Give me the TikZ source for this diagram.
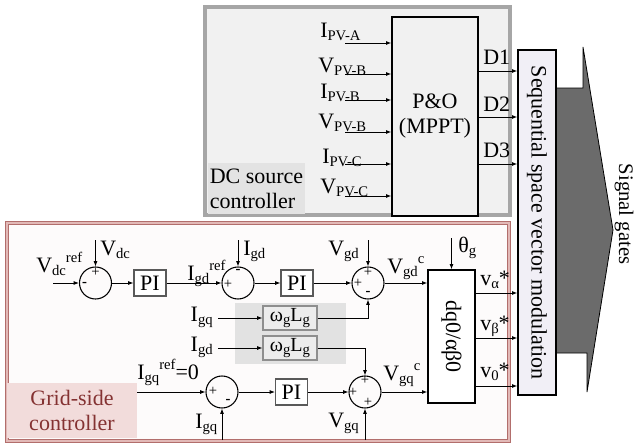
\documentclass[tikz,border=0pt]{standalone}
\usepackage{fontspec}
\setmainfont{Liberation Serif}
\usetikzlibrary{arrows.meta,calc}
\definecolor{dcfill}{HTML}{F1F1F1}
\definecolor{dcedge}{HTML}{A6A6A6}
\definecolor{dclab}{HTML}{E3E3E3}
\definecolor{gridedge}{HTML}{B26E6C}
\definecolor{gridinner}{HTML}{E2B9B7}
\definecolor{gridfill}{HTML}{FDFBFB}
\definecolor{gridlab}{HTML}{F2DCDB}
\definecolor{gridtext}{HTML}{843232}
\definecolor{seqfill}{HTML}{F1EFF6}
\definecolor{arrfill}{HTML}{6B6B6B}
\definecolor{wlgray}{HTML}{E2E2E2}
\definecolor{wlbox}{HTML}{ECECEC}
\definecolor{wledge}{HTML}{8E8E8E}
\newcommand{\lsb}[1]{\raisebox{-2.5pt}{\fontsize{11}{11}\selectfont #1}}
\newcommand{\lsp}[1]{\raisebox{7.5pt}{\fontsize{11}{11}\selectfont #1}}
\begin{document}
\begin{tikzpicture}[x=0.75pt,y=-0.75pt, font=\fontsize{16.5}{18.75}\selectfont,
  arr/.style={-{Latex[length=4pt,width=3pt]}, line width=0.7pt},
  sumnode/.style={circle, draw, line width=0.8pt, minimum size=24pt, inner sep=0pt},
  piblock/.style={draw=black!65, line width=0.8pt, fill=white, minimum width=24pt, minimum height=19.5pt, inner sep=0pt},
  wlblock/.style={draw=wledge, line width=0.8pt, fill=wlbox, minimum width=40.5pt, minimum height=18pt, inner sep=0pt, font=\fontsize{15}{15}\selectfont},
  sgn/.style={font=\fontsize{11}{11}\selectfont, inner sep=0pt},
  lbl/.style={anchor=base west, inner sep=0pt},
  lble/.style={anchor=base east, inner sep=0pt},
]
\useasboundingbox (0,0) rectangle (640,447);

% ---------------- DC source controller ----------------
\node[draw=dcedge, line width=2.4pt, fill=dcfill, minimum width=228.75pt, minimum height=156pt, inner sep=0pt] (dcbox) at (357.5,111) {};
\node[fill=dclab, minimum width=73pt, minimum height=38pt, align=left, inner sep=0pt] (dclabel) at (256.5,188.5) {DC source\\controller};
\node[draw, line width=0.9pt, fill=dcfill, minimum width=64.5pt, minimum height=149.25pt, align=center] (pno) at (435,116.5) {P\&O\\(MPPT)};

\coordinate (pv1) at (345,43);
\coordinate (pv2) at (345,74);
\coordinate (pv3) at (345,100);
\coordinate (pv4) at (345,132);
\coordinate (pv5) at (345,164);
\coordinate (pv6) at (345,196);
\foreach \i in {1,...,6} {\draw[arr] (pv\i) -- (pv\i -| pno.west);}
\node[lbl] (lpv1) at (320,37) {I\lsb{PV-A}};
\node[lbl] (lpv2) at (318,72) {V\lsb{PV-B}};
\node[lbl] (lpv3) at (320,98) {I\lsb{PV-B}};
\node[lbl] (lpv4) at (318,128) {V\lsb{PV-B}};
\node[lbl] (lpv5) at (322,163) {I\lsb{PV-C}};
\node[lbl] (lpv6) at (320,193) {V\lsb{PV-C}};

% ---------------- modulation block and arrow ----------------
\draw[fill=arrfill, line width=0.6pt] (556,88) -- (583,88) -- (583,47) -- (613,230) -- (587,392) -- (587,353) -- (556,353) -- cycle;
\node[draw, line width=0.9pt, fill=seqfill, minimum width=28.5pt, minimum height=258.75pt, inner sep=0pt] (seq) at (537,222.5) {};
\node[rotate=-90, inner sep=0pt] (seqtext) at (seq.center) {Sequential space vector modulation};
\node[rotate=-90, inner sep=0pt, font=\fontsize{15.5}{15.5}\selectfont] (sig) at (624,214) {Signal gates};

\coordinate (d1out) at (478,71);
\coordinate (d2out) at (478,117);
\coordinate (d3out) at (478,164);
\foreach \i in {1,2,3} {\draw[arr] (d\i out) -- (d\i out -| seq.west);}
\node[lbl] (ld1) at (483,64) {D1};
\node[lbl] (ld2) at (483,111) {D2};
\node[lbl] (ld3) at (483,157) {D3};

% ---------------- Grid-side controller ----------------
\node[draw=gridedge, double=gridinner, double distance=1.3pt, line width=0.9pt, fill=gridfill, minimum width=377pt, minimum height=163pt, inner sep=0pt] (gridbox) at (258,332) {};
\node[fill=gridlab, minimum width=97.5pt, minimum height=41.25pt, align=center, text=gridtext, inner sep=0pt] (gridlabel) at (72,410.5) {Grid-side\\controller};
\node[fill=wlgray, minimum width=83.25pt, minimum height=45.75pt, inner sep=0pt] (wlbg) at (290.5,333.5) {};

\node[sumnode] (sum1) at (95.5,283) {};
\node[sumnode] (sum2) at (238,283) {};
\node[sumnode] (sum3) at (368,283) {};
\node[sumnode] (sum4) at (365,392) {};
\node[sumnode] (sum5) at (222,392) {};
\node[piblock] (pi1) at (150,283) {PI};
\node[piblock] (pi2) at (297,283) {PI};
\node[piblock] (pi3) at (291.5,392) {PI};
\node[wlblock] (wl1) at (290,318) {ω\lsb{g}L\lsb{g}};
\node[wlblock] (wl2) at (290,348) {ω\lsb{g}L\lsb{g}};
\node[draw, line width=0.9pt, fill=white, minimum width=35.25pt, minimum height=99.75pt, inner sep=0pt] (dq) at (451.5,336.5) {};
\node[rotate=-90, inner sep=0pt] (dqtext) at (dq.center) {dq0/αβ0};

% signs
\node[sgn] (s1a) at ($(sum1)+(0,-11)$) {+};
\node[sgn] (s1b) at ($(sum1)+(-11,1)$) {\textbf{-}};
\node[sgn] (s2a) at ($(sum2)+(-10,1)$) {+};
\node[sgn] (s2b) at ($(sum2)+(0,-12)$) {\textbf{-}};
\node[sgn] (s3a) at ($(sum3)+(-10,0)$) {+};
\node[sgn] (s3b) at ($(sum3)+(0,-11)$) {+};
\node[sgn] (s3c) at ($(sum3)+(0,10)$) {\textbf{-}};
\node[sgn] (s4a) at ($(sum4)+(0,-12)$) {+};
\node[sgn] (s4b) at ($(sum4)+(-12,0)$) {+};
\node[sgn] (s4c) at ($(sum4)+(3,10)$) {+};
\node[sgn] (s5a) at ($(sum5)+(-9,-1)$) {+};
\node[sgn] (s5b) at ($(sum5)+(6,9)$) {\textbf{-}};

% inputs
\coordinate (vdcin) at (53,283);
\coordinate (vdctop) at (95.5,240);
\coordinate (igdtop) at (238,240);
\coordinate (vgdtop) at (368,240);
\coordinate (thtop) at (451.5,238);
\coordinate (igqin) at (218,318);
\coordinate (igdin) at (218,348);
\coordinate (igqrefin) at (137,392);
\coordinate (igqbot) at (222,440);
\coordinate (vgqbot) at (365,440);

\draw[arr] (vdcin) -- (sum1);
\draw[arr] (vdctop) -- (sum1.north);
\draw[arr] (sum1) -- (pi1);
\draw[arr] (pi1) -- (sum2);
\draw[arr] (igdtop) -- (sum2.north);
\draw[arr] (sum2) -- (pi2);
\draw[arr] (pi2) -- (sum3);
\draw[arr] (vgdtop) -- (sum3.north);
\draw[arr] (sum3) -- (sum3 -| dq.west);
\draw[arr] (thtop) -- (dq.north);
\draw[arr] (igqin) -- (wl1);
\draw[arr] (igdin) -- (wl2);
\draw[arr] (wl1.east) -| (sum3.south);
\draw[arr] (wl2.east) -| (sum4.north);
\draw[arr] (igqrefin) -- (sum5);
\draw[arr] (igqbot) -- (sum5.south);
\draw[arr] (sum5) -- (pi3);
\draw[arr] (pi3) -- (sum4);
\draw[arr] (vgqbot) -- (sum4.south);
\draw[arr] (sum4) -- (sum4 -| dq.west);

\coordinate (vaout) at (475,293);
\coordinate (vbout) at (475,338);
\coordinate (v0out) at (475,386);
\draw[arr] (vaout) -- (vaout -| seq.west);
\draw[arr] (vbout) -- (vbout -| seq.west);
\draw[arr] (v0out) -- (v0out -| seq.west);

% labels
\node[lbl] (lvdcref) at (36,272) {V\lsb{dc}\lsp{ref}};
\node[lbl] (lvdc) at (100,255) {V\lsb{dc}};
\node[lbl] (ligdref) at (187,280) {I\lsb{gd}\lsp{ref}};
\node[lbl] (ligd) at (243,255) {I\lsb{gd}};
\node[lbl] (lvgd) at (328,255) {V\lsb{gd}};
\node[lbl] (lvgdc) at (387,273) {V\lsb{gd}\lsp{c}};
\node[lbl] (lth) at (458,252) {θ\lsb{g}};
\node[lbl] (lva) at (480,285) {v\lsb{α}*};
\node[lbl] (lvb) at (480,330) {v\lsb{β}*};
\node[lbl] (lv0) at (480,377) {v\lsb{0}*};
\node[lble] (ligq1) at (213,321) {I\lsb{gq}};
\node[lble] (ligd2) at (213,351) {I\lsb{gd}};
\node[lbl] (ligqref) at (137,379) {I\lsb{gq}\lsp{ref}=0};
\node[lbl] (ligq2) at (195,428) {I\lsb{gq}};
\node[lbl] (lvgq) at (328,427) {V\lsb{gq}};
\node[lbl] (lvgqc) at (383,380) {V\lsb{gq}\lsp{c}};
\end{tikzpicture}
\end{document}
